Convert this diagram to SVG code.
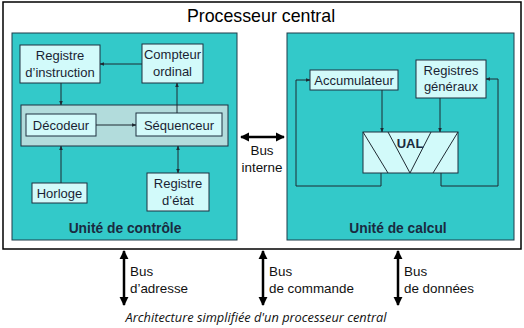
<svg xmlns="http://www.w3.org/2000/svg" width="524" height="328" viewBox="0 0 524 328">
<defs>
<style>
.t{font-family:"Liberation Sans",Arial,sans-serif;font-size:13px;fill:#1a1f33;text-anchor:middle}
.b{font-weight:bold;fill:#1a2a40}
.u{font-size:13.8px}
.bus{font-family:"Liberation Sans",Arial,sans-serif;font-size:13.4px;fill:#111}
.unit{fill:#33c9c9;stroke:#1f3d4a;stroke-width:1}
.box{fill:#d2fafa;stroke:#1f3040;stroke-width:1}
.ln{fill:none;stroke:#1f2a33;stroke-width:1}
.thick{fill:none;stroke:#000;stroke-width:2.5}
</style>
<marker id="a" viewBox="0 0 10 10" refX="9" refY="5" markerWidth="4.5" markerHeight="4.5" orient="auto-start-reverse"><path d="M0,1 L10,5 L0,9 Z" fill="#1f2a33"/></marker>
<marker id="big" viewBox="0 0 10 10" refX="9" refY="5" markerWidth="3.6" markerHeight="4" orient="auto-start-reverse"><path d="M0,0 L10,5 L0,10 Z" fill="#000"/></marker>
</defs>
<rect width="524" height="328" fill="#fff"/>
<g id="processeur">
<rect x="3" y="2" width="518" height="247" fill="#fff" stroke="#000" stroke-width="1.5"/>
<text x="261" y="22" font-family="Liberation Sans,Arial,sans-serif" font-size="17.8" text-anchor="middle" fill="#000">Processeur central</text>
</g>
<g id="unite-controle">
<rect class="unit" x="12" y="33" width="225" height="207"/>
<text class="t b u" x="125" y="233">Unité de contrôle</text>
</g>
<g id="unite-calcul">
<rect class="unit" x="287" y="33" width="227" height="207"/>
<text class="t b u" x="398" y="233">Unité de calcul</text>
</g>
<g id="bloc-decodage">
<rect x="21" y="105" width="207" height="41" fill="#b2dcdc" stroke="#1f3040" stroke-width="1"/>
</g>
<g id="registre-instruction">
<rect class="box" x="20" y="45" width="80" height="38"/>
<text class="t" x="60" y="60">Registre</text>
<text class="t" x="60" y="77">d’instruction</text>
</g>
<g id="compteur-ordinal">
<rect class="box" x="142" y="44" width="61" height="39"/>
<text class="t" x="172.5" y="59">Compteur</text>
<text class="t" x="172.5" y="76">ordinal</text>
</g>
<g id="decodeur">
<rect class="box" x="26" y="114" width="70" height="22"/>
<text class="t" x="61" y="130">Décodeur</text>
</g>
<g id="sequenceur">
<rect class="box" x="136" y="113" width="86" height="23"/>
<text class="t" x="179" y="129.5">Séquenceur</text>
</g>
<g id="horloge">
<rect class="box" x="32" y="183" width="55" height="20"/>
<text class="t" x="59.5" y="198">Horloge</text>
</g>
<g id="registre-etat">
<rect class="box" x="147" y="173" width="62" height="38"/>
<text class="t" x="178" y="188">Registre</text>
<text class="t" x="178" y="205">d’état</text>
</g>
<g id="accumulateur">
<rect class="box" x="310" y="70" width="88" height="20"/>
<text class="t" x="354" y="85">Accumulateur</text>
</g>
<g id="registres-generaux">
<rect class="box" x="416" y="60" width="70" height="38"/>
<text class="t" x="451" y="75">Registres</text>
<text class="t" x="451" y="91">généraux</text>
</g>
<g id="ual">
<rect x="363" y="132" width="95" height="41" fill="#d2fafa" stroke="#1f3040" stroke-width="1"/>
<path class="ln" d="M363,132 L388,173 M388,132 L410,173 L431,132 M433,173 L458,132"/>
<text class="t b" x="410" y="148" style="font-size:13px">UAL</text>
</g>
<g id="connecteurs">
<path class="ln" d="M142,64 L100,64" marker-end="url(#a)"/>
<path class="ln" d="M61,83 L61,105" marker-end="url(#a)"/>
<path class="ln" d="M96,125 L136,125" marker-end="url(#a)"/>
<path class="ln" d="M177,113 L177,83" marker-end="url(#a)"/>
<path class="ln" d="M61,183 L61,146" marker-end="url(#a)"/>
<path class="ln" d="M178,146 L178,173" marker-start="url(#a)" marker-end="url(#a)"/>
<path class="ln" d="M382,90 L382,132" marker-end="url(#a)"/>
<path class="ln" d="M440,98 L440,132" marker-end="url(#a)"/>
<path class="ln" d="M381,173 L381,186 L296,186 L296,80 L310,80" marker-end="url(#a)"/>
<path class="ln" d="M441,173 L441,186 L498,186 L498,79 L486,79" marker-end="url(#a)"/>
<path class="thick" d="M241,137 L284,137" marker-start="url(#big)" marker-end="url(#big)"/>
<path class="thick" d="M124,251 L124,305" marker-start="url(#big)" marker-end="url(#big)"/>
<path class="thick" d="M263,251 L263,305" marker-start="url(#big)" marker-end="url(#big)"/>
<path class="thick" d="M398,251 L398,305" marker-start="url(#big)" marker-end="url(#big)"/>
</g>
<g id="labels-bus">
<text class="bus" x="262" y="155" text-anchor="middle">Bus</text>
<text class="bus" x="262" y="172" text-anchor="middle">interne</text>
<text class="bus" x="130" y="276">Bus</text>
<text class="bus" x="130" y="293">d’adresse</text>
<text class="bus" x="269" y="276">Bus</text>
<text class="bus" x="269" y="293">de commande</text>
<text class="bus" x="404" y="276">Bus</text>
<text class="bus" x="404" y="293">de données</text>
</g>
<text x="256" y="322" font-family="Open Sans,Liberation Sans,sans-serif" font-style="italic" font-size="12.8" text-anchor="middle" fill="#111">Architecture simplifiée d'un processeur central</text>
</svg>
